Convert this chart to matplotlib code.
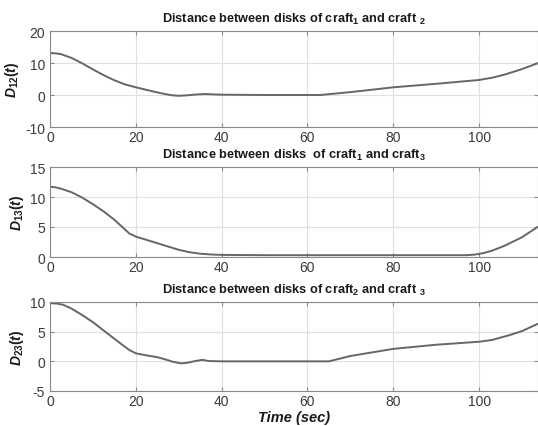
"""Distances between the disks of three craft over time."""

import matplotlib
matplotlib.use("Agg")
import matplotlib.pyplot as plt
import numpy as np

plt.rcParams["font.family"] = ["Liberation Sans", "DejaVu Sans"]
plt.rcParams["mathtext.fontset"] = "custom"
plt.rcParams["mathtext.rm"] = "Liberation Sans:bold"
plt.rcParams["mathtext.it"] = "Liberation Sans:bold:italic"
plt.rcParams["mathtext.bf"] = "Liberation Sans:bold"
plt.rcParams["axes.unicode_minus"] = False

# D12(t)
t12 = [0, 1, 2.5, 5, 7.5, 10, 12.5, 15, 17.5, 20, 22.5, 25, 27, 28.5, 30, 32, 34, 36, 38,
       40, 50, 63, 70, 80, 90, 100, 103, 106, 110, 113.6]
d12 = [13.1, 13.05, 12.8, 11.6, 9.9, 8.0, 6.2, 4.6, 3.3, 2.4, 1.6, 0.8, 0.25, -0.1, -0.25,
       -0.1, 0.15, 0.3, 0.2, 0.1, 0.0, 0.0, 0.9, 2.4, 3.5, 4.7, 5.4, 6.4, 8.1, 9.9]

# D13(t)
t13 = [0, 1, 2.5, 5, 7.5, 10, 12.5, 15, 17, 18.5, 20, 22.5, 25, 27.5, 30, 32.5, 35, 37.5,
       40, 50, 70, 90, 97, 99, 101, 103, 106, 110, 113.6]
d13 = [11.7, 11.65, 11.4, 10.8, 9.9, 8.8, 7.6, 6.2, 4.9, 3.9, 3.4, 2.85, 2.3, 1.75, 1.2,
       0.8, 0.55, 0.42, 0.35, 0.3, 0.3, 0.3, 0.3, 0.4, 0.65, 1.05, 1.9, 3.3, 5.0]

# D23(t)
t23 = [0, 1.5, 3, 5, 7.5, 10, 12.5, 15, 17, 18.5, 20, 22.5, 25, 27, 28.5, 30.5, 32, 33.5,
       35.5, 37, 40, 50, 65, 70, 80, 90, 100, 103, 107, 110, 113.6]
d23 = [9.8, 9.75, 9.55, 8.9, 7.8, 6.6, 5.2, 3.8, 2.7, 1.9, 1.35, 1.0, 0.7, 0.3, -0.05,
       -0.35, -0.25, 0.0, 0.25, 0.05, 0.0, 0.0, 0.0, 0.9, 2.1, 2.8, 3.3, 3.6, 4.4, 5.1, 6.3]

titles = [
    "Distance between disks of craft$_1$ and craft $_2$",
    "Distance between disks  of craft$_1$ and craft$_3$",
    "Distance between disks of craft$_2$ and craft $_3$",
]
ylabels = ["$D_{12}(t)$", "$D_{13}(t)$", "$D_{23}(t)$"]
ylims = [(-10, 20), (0, 15), (-5, 10)]
yticks = [[-10, 0, 10, 20], [0, 5, 10, 15], [-5, 0, 5, 10]]

W, H = 538, 427
fig = plt.figure(figsize=(W / 100, H / 100), dpi=100)

# axes boxes in pixels: (top, bottom)
boxes = [(32, 128), (168, 258), (303, 392)]
left, right = 50, 537.5

series = [(t12, d12), (t13, d13), (t23, d23)]
for i, ((top, bottom), (t, d)) in enumerate(zip(boxes, series)):
    ax = fig.add_axes([left / W, 1 - bottom / H, (right - left) / W, (bottom - top) / H])
    ax.plot(np.array(t), np.array(d), color="#666666", linewidth=1.4)
    ax.set_xlim(0, 113.6)
    ax.set_ylim(*ylims[i])
    ax.set_yticks(yticks[i])
    ax.set_xticks([0, 20, 40, 60, 80, 100])
    ax.grid(True, color="#e0e0e0", linewidth=0.8)
    ax.set_axisbelow(True)
    for s in ax.spines.values():
        s.set_color("#8a8a8a")
        s.set_linewidth(0.8)
    ax.tick_params(direction="in", length=3, width=0.8, color="#8a8a8a",
                   labelsize=10, labelcolor="#3a3a3a", top=True, right=True)
    ax.tick_params(axis="y", pad=3.5)
    ax.tick_params(axis="x", pad=2.5)
    ax.set_title(titles[i], fontsize=9.2, fontweight="bold", color="#1a1a1a", pad=6.5)
    ax.set_ylabel(ylabels[i], fontsize=10, color="#1a1a1a", labelpad=3)

ax.set_xlabel("Time (sec)", fontsize=10.5, fontweight="bold", fontstyle="italic",
              color="#1a1a1a", labelpad=1)

fig.savefig("out.png", dpi=100)
